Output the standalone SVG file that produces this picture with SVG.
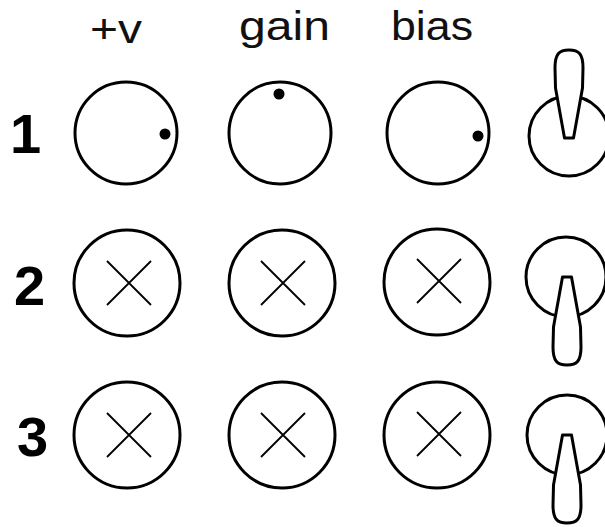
<svg xmlns="http://www.w3.org/2000/svg" width="605" height="527" viewBox="0 0 605 527">
<style>
.lbl{font-family:"Liberation Sans",Arial,sans-serif;font-size:40px;fill:#111}
.num{font-family:"Liberation Sans",Arial,sans-serif;font-size:56px;font-weight:bold;fill:#000}
.knob{fill:#fff;stroke:#000;stroke-width:3}
.x{stroke:#000;stroke-width:1.8;fill:none}
.dot{fill:#000}
.lever{fill:#fff;stroke:#000;stroke-width:3;stroke-linejoin:round}
</style>
<defs>
<path id="lev" d="M-4.5,0 L4.5,0 L13.5,50 L14,70 C14,84 10,88 0,88 C-10,88 -14,84 -14,70 L-13.5,50 Z"/>
<g id="xm"><path d="M-22,-22 L22,22 M22,-22 L-22,22"/></g>
</defs>
<rect width="605" height="527" fill="#fff"/>
<g id="labels">
<text class="lbl" x="90" y="43" textLength="52" lengthAdjust="spacingAndGlyphs">+v</text>
<text class="lbl" x="239" y="40" textLength="91" lengthAdjust="spacingAndGlyphs">gain</text>
<text class="lbl" x="391" y="40" textLength="82" lengthAdjust="spacingAndGlyphs">bias</text>
<text class="num" x="10" y="153">1</text>
<text class="num" x="14" y="305">2</text>
<text class="num" x="17" y="456">3</text>
</g>
<g id="row1">
<g id="k11"><circle class="knob" cx="126" cy="133" r="51"/><circle class="dot" cx="165" cy="134" r="5.5"/></g>
<g id="k12"><circle class="knob" cx="280" cy="133" r="51"/><circle class="dot" cx="279" cy="94" r="5.5"/></g>
<g id="k13"><circle class="knob" cx="438" cy="133" r="51"/><circle class="dot" cx="478" cy="136" r="5.5"/></g>
<g id="t1"><circle class="knob" cx="569" cy="136" r="40"/><use href="#lev" class="lever" transform="translate(569,138) scale(1,-1)"/></g>
</g>
<g id="row2">
<g id="k21"><circle class="knob" cx="127" cy="283" r="53"/><use href="#xm" class="x" transform="translate(129,283)"/></g>
<g id="k22"><circle class="knob" cx="282" cy="283" r="53"/><use href="#xm" class="x" transform="translate(283,283)"/></g>
<g id="k23"><circle class="knob" cx="437" cy="282" r="53"/><use href="#xm" class="x" transform="translate(439,281)"/></g>
<g id="t2"><circle class="knob" cx="566" cy="277" r="40"/><use href="#lev" class="lever" transform="translate(567,277)"/></g>
</g>
<g id="row3">
<g id="k31"><circle class="knob" cx="127" cy="435" r="53"/><use href="#xm" class="x" transform="translate(129,435)"/></g>
<g id="k32"><circle class="knob" cx="282" cy="435" r="53"/><use href="#xm" class="x" transform="translate(283,435)"/></g>
<g id="k33"><circle class="knob" cx="437" cy="435" r="53"/><use href="#xm" class="x" transform="translate(439,434)"/></g>
<g id="t3"><circle class="knob" cx="567" cy="435" r="40"/><use href="#lev" class="lever" transform="translate(567,435)"/></g>
</g>
</svg>
